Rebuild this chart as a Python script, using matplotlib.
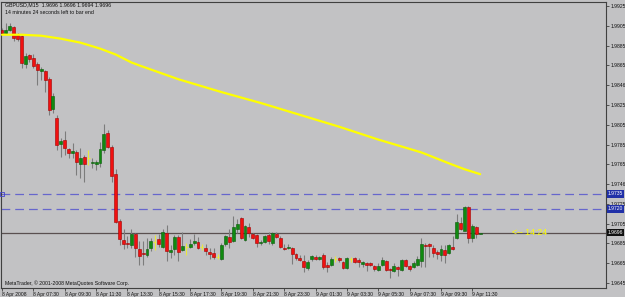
import matplotlib
matplotlib.use("Agg")
import matplotlib.pyplot as plt
import numpy as np

# ---------------- data ----------------
opens = [1.9901,1.9898,1.9901,1.9904,1.9896,1.9895,1.9866,1.9875,1.9872,1.9866,
         1.9859,1.9859,1.9851,1.9821,1.9812,1.9786,1.9790,1.9780,1.9776,1.9777,
         1.9765,1.9772,1.9771,1.9766,1.9765,1.9766,1.9779,1.9797,1.9782,1.9755,
         1.9708,1.9688,1.9685,1.9683,1.9694,1.9679,1.9675,1.9673,1.9680,1.9686,
         1.9689,1.9681,1.9696,1.9676,1.9679,1.9691,1.9678,1.9681,1.9681,1.9685,
         1.9686,1.9681,1.9680,1.9676,1.9675,1.9671,1.9669,1.9684,1.9691,1.9687,
         1.9700,1.9711,1.9688,1.9702,1.9695,1.9693,1.9685,1.9686,1.9693,1.9685,
         1.9695,1.9690,1.9680,1.9680,1.9680,1.9674,1.9670,1.9667,1.9660,1.9669,
         1.9671,1.9669,1.9673,1.9663,1.9663,1.9669,1.9670,1.9666,1.9660,1.9669,
         1.9670,1.9668,1.9664,1.9665,1.9665,1.9662,1.9658,1.9663,1.9667,1.9659,
         1.9657,1.9661,1.9658,1.9668,1.9662,1.9661,1.9663,1.9667,1.9683,1.9684,
         1.9680,1.9676,1.9673,1.9678,1.9675,1.9681,1.9690,1.9706,1.9698,1.9722,
         1.9690,1.9702,1.9695]
highs = [1.9903,1.9908,1.9908,1.9905,1.9898,1.9896,1.9878,1.9877,1.9877,1.9868,
         1.9863,1.9860,1.9853,1.9837,1.9815,1.9792,1.9799,1.9781,1.9787,1.9779,
         1.9781,1.9774,1.9779,1.9771,1.9769,1.9788,1.9806,1.9800,1.9784,1.9760,
         1.9710,1.9700,1.9692,1.9700,1.9696,1.9687,1.9687,1.9690,1.9690,1.9693,
         1.9695,1.9700,1.9704,1.9683,1.9693,1.9693,1.9697,1.9685,1.9689,1.9694,
         1.9691,1.9684,1.9684,1.9680,1.9680,1.9674,1.9685,1.9693,1.9700,1.9713,
         1.9710,1.9712,1.9704,1.9706,1.9696,1.9694,1.9688,1.9693,1.9697,1.9697,
         1.9697,1.9692,1.9684,1.9684,1.9681,1.9675,1.9673,1.9673,1.9668,1.9673,
         1.9673,1.9672,1.9675,1.9666,1.9671,1.9672,1.9671,1.9667,1.9671,1.9671,
         1.9671,1.9670,1.9667,1.9666,1.9666,1.9663,1.9665,1.9671,1.9668,1.9660,
         1.9665,1.9662,1.9669,1.9669,1.9663,1.9667,1.9672,1.9690,1.9685,1.9685,
         1.9683,1.9678,1.9683,1.9683,1.9684,1.9692,1.9715,1.9712,1.9723,1.9723,
         1.9705,1.9703,1.9696]
lows = [1.9897,1.9897,1.9900,1.9890,1.9890,1.9862,1.9862,1.9868,1.9862,1.9845,
        1.9850,1.9838,1.9815,1.9817,1.9779,1.9772,1.9774,1.9771,1.9771,1.9754,
        1.9751,1.9747,1.9764,1.9761,1.9759,1.9762,1.9776,1.9781,1.9747,1.9706,
        1.9683,1.9679,1.9680,1.9680,1.9671,1.9663,1.9663,1.9671,1.9677,1.9678,
        1.9681,1.9680,1.9667,1.9670,1.9673,1.9667,1.9677,1.9673,1.9680,1.9683,
        1.9679,1.9678,1.9673,1.9669,1.9669,1.9669,1.9668,1.9682,1.9680,1.9686,
        1.9696,1.9689,1.9687,1.9691,1.9689,1.9681,1.9683,1.9685,1.9684,1.9683,
        1.9690,1.9680,1.9678,1.9679,1.9664,1.9668,1.9667,1.9656,1.9658,1.9667,
        1.9668,1.9668,1.9659,1.9656,1.9662,1.9666,1.9666,1.9659,1.9659,1.9666,
        1.9665,1.9661,1.9661,1.9657,1.9662,1.9657,1.9657,1.9662,1.9657,1.9650,
        1.9656,1.9652,1.9657,1.9661,1.9657,1.9660,1.9662,1.9661,1.9661,1.9671,
        1.9671,1.9669,1.9667,1.9665,1.9674,1.9678,1.9689,1.9699,1.9699,1.9685,
        1.9686,1.9690,1.9694]
closes = [1.9898,1.9901,1.9905,1.9893,1.9892,1.9867,1.9874,1.9871,1.9864,1.9860,
          1.9861,1.9850,1.9820,1.9834,1.9785,1.9789,1.9781,1.9776,1.9778,1.9767,
          1.9771,1.9765,1.9771,1.9767,1.9767,1.9780,1.9796,1.9782,1.9753,1.9707,
          1.9689,1.9684,1.9684,1.9695,1.9680,1.9672,1.9674,1.9679,1.9687,1.9686,
          1.9684,1.9697,1.9677,1.9678,1.9691,1.9676,1.9682,1.9681,1.9684,1.9687,
          1.9680,1.9681,1.9677,1.9674,1.9671,1.9671,1.9683,1.9692,1.9686,1.9702,
          1.9705,1.9690,1.9703,1.9696,1.9690,1.9685,1.9686,1.9692,1.9687,1.9696,
          1.9691,1.9681,1.9679,1.9681,1.9674,1.9670,1.9668,1.9661,1.9666,1.9672,
          1.9669,1.9671,1.9661,1.9661,1.9669,1.9669,1.9668,1.9660,1.9670,1.9669,
          1.9666,1.9666,1.9666,1.9663,1.9663,1.9659,1.9662,1.9668,1.9658,1.9658,
          1.9662,1.9659,1.9668,1.9662,1.9659,1.9665,1.9669,1.9684,1.9682,1.9682,
          1.9675,1.9674,1.9679,1.9673,1.9683,1.9679,1.9707,1.9700,1.9722,1.9690,
          1.9703,1.9695,1.9696]

# moving average (read at selected bars)
ma_bars = [0, 5, 10, 15, 20, 25, 29, 31, 33, 35, 40, 45, 56, 66, 76, 86, 96, 107, 114, 118, 122]
ma_vals = [1.9896, 1.9896, 1.9895, 1.9892, 1.9888, 1.9882, 1.9876, 1.9872, 1.9868, 1.9865,
           1.9858, 1.9851, 1.9838, 1.9827, 1.9815, 1.9803, 1.9790, 1.9777, 1.9766, 1.9760, 1.9755]

x_tick_bars = [0, 8, 16, 24, 32, 40, 48, 56, 64, 72, 80, 88, 96, 104, 112, 120]
x_tick_labels = ["8 Apr 2008", "8 Apr 07:30", "8 Apr 09:30", "8 Apr 11:30", "8 Apr 13:30",
                 "8 Apr 15:30", "8 Apr 17:30", "8 Apr 19:30", "8 Apr 21:30", "8 Apr 23:30",
                 "9 Apr 01:30", "9 Apr 03:30", "9 Apr 05:30", "9 Apr 07:30", "9 Apr 09:30",
                 "9 Apr 11:30"]
y_tick_vals = [1.9925, 1.9905, 1.9885, 1.9865, 1.9845, 1.9825, 1.9805, 1.9785,
               1.9765, 1.9745, 1.9725, 1.9705, 1.9685, 1.9665, 1.9645]
y_tick_labels = ["1.9925", "1.9905", "1.9885", "1.9865", "1.9846", "1.9825", "1.9805", "1.9785",
                 "1.9765", "1.9746", "1.9725", "1.9705", "1.9685", "1.9665", "1.9645"]

hlines_blue = [1.9735, 1.9720]
hlines_blue_labels = ["1.9735", "1.9720"]
bid_price = 1.9696
bid_label = "1.9696"
title_line1 = "GBPUSD,M15  1.9696 1.9696 1.9694 1.9696"
title_line2 = "14 minutes 24 seconds left to bar end"
copyright_text = "MetaTrader, \u00a9 2001-2008 MetaQuotes Software Corp."
timer_text = "<-- 14:24"

# ---------------- figure ----------------
W, H = 625, 297
BG = "#c2c2c4"
fig = plt.figure(figsize=(W / 100, H / 100), dpi=100, facecolor=BG)
ax = fig.add_axes([1.5 / W, 9 / H, (606 - 1.5) / W, (288 - 1.5) / H])
ax.set_facecolor(BG)
ax.set_xlim(-0.13, 154.1)
ax.set_ylim(1.96399, 1.99296)

FONT = "Liberation Sans"
n = len(opens)
o = np.array(opens); h = np.array(highs); l = np.array(lows); c = np.array(closes)

bw = 0.75
min_h = 0.00009
for i in range(n):
    if o[i] == c[i]:
        ax.vlines(i, l[i], h[i], color="#e8e840", lw=0.8, zorder=3)
        ax.hlines(o[i], i - bw / 2, i + bw / 2, color="#e8e840", lw=0.8, zorder=3)
        continue
    ax.vlines(i, l[i], h[i], color="#7c7c7c", lw=0.8, zorder=3)
    up = c[i] > o[i]
    bottom = min(o[i], c[i])
    height = max(abs(c[i] - o[i]), min_h)
    if up:
        ax.bar(i, height, bw, bottom=bottom, color="#108a10", edgecolor="#0a5a0a",
               linewidth=0.4, zorder=4)
    else:
        ax.bar(i, height, bw, bottom=bottom, color="#f01010", edgecolor="#a00000",
               linewidth=0.4, zorder=4)

# moving average
ax.plot(ma_bars, ma_vals, color="#ffff00", lw=1.6, zorder=5, solid_capstyle="round",
        solid_joinstyle="round")

# horizontal lines
for v in hlines_blue:
    ax.axhline(v, color="#6666cc", lw=0.9, dashes=(7, 4), zorder=2)
ax.plot([0.1], [hlines_blue[0]], marker="s", ms=2.5, mfc="none", mec="#4444cc", mew=0.6,
        zorder=6, clip_on=False)
ax.axhline(bid_price, color="#5a5050", lw=0.9, zorder=2)

# timer text
ax.text(130.0, bid_price, timer_text, color="#ffff00", fontsize=6.3, family=FONT,
        va="center", ha="left", zorder=7)

# title texts
ax.text(0.006, 0.997, title_line1, transform=ax.transAxes, fontsize=3.8, family=FONT,
        color="#101010", va="top", ha="left")
ax.text(0.006, 0.972, title_line2, transform=ax.transAxes, fontsize=3.8, family=FONT,
        color="#101010", va="top", ha="left")
ax.text(0.006, 0.008, copyright_text, transform=ax.transAxes, fontsize=3.7, family=FONT,
        color="#101010", va="bottom", ha="left")

# axes styling
for s in ax.spines.values():
    s.set_color("#404040")
    s.set_linewidth(0.8)
ax.yaxis.tick_right()
ax.set_yticks(y_tick_vals)
ax.set_yticklabels(y_tick_labels, fontsize=3.6, family=FONT, color="#101010")
ax.tick_params(axis="y", length=2, width=0.6, pad=1.5, color="#404040")
ax.set_xticks(x_tick_bars)
ax.set_xticklabels(x_tick_labels, fontsize=3.6, family=FONT, color="#101010", ha="left")
ax.tick_params(axis="x", length=2, width=0.6, pad=1, color="#404040")

# price label boxes on right axis
trans = matplotlib.transforms.blended_transform_factory(ax.transAxes, ax.transData)
for v, lab in zip(hlines_blue, hlines_blue_labels):
    ax.text(1.003, v, lab, transform=trans, fontsize=3.6, family=FONT, color="white",
            va="center", ha="left", clip_on=False, zorder=8,
            bbox=dict(boxstyle="square,pad=0.25", fc="#2030a8", ec="#2030a8", lw=0))
ax.text(1.003, bid_price, bid_label, transform=trans, fontsize=3.6, family=FONT, color="white",
        va="center", ha="left", clip_on=False, zorder=8,
        bbox=dict(boxstyle="square,pad=0.25", fc="#101010", ec="#101010", lw=0))

fig.savefig("out.png", dpi=100, facecolor=BG)
